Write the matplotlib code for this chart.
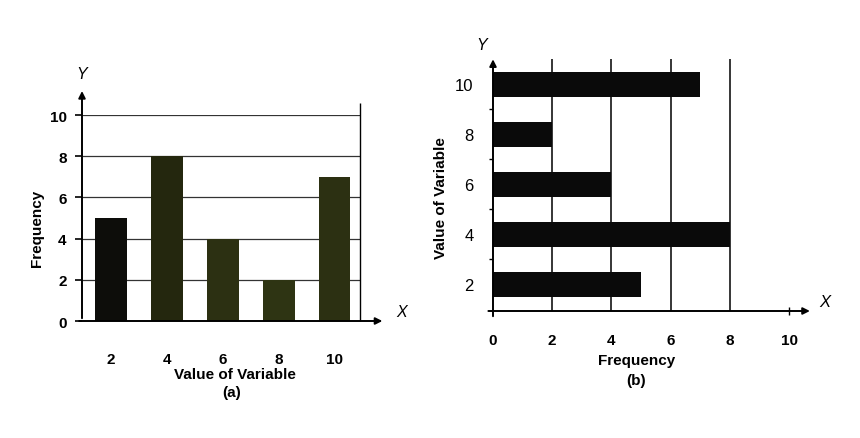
import matplotlib
matplotlib.use("Agg")
import matplotlib.pyplot as plt

# ---- data ----
categories = ["2", "4", "6", "8", "10"]
freq_a = [5, 8, 4, 2, 7]          # chart (a): vertical bars
freq_b = [5, 8, 4, 2, 7]          # chart (b): horizontal bars
yticks_a = [0, 2, 4, 6, 8, 10]
xticks_b = [0, 2, 4, 6, 8, 10]
colors_a = ["#0d0d0a", "#24270e", "#2c3012", "#2e3413", "#2c3012"]

W, H = 860, 439
fig = plt.figure(figsize=(W / 100, H / 100), dpi=100)
fig.patch.set_facecolor("white")
plt.rcParams['font.family'] = ['Liberation Sans', 'DejaVu Sans']

def px_axes(x0, x1, ytop, ybot):
    return fig.add_axes([x0 / W, 1 - ybot / H, (x1 - x0) / W, (ybot - ytop) / H])

# ================= chart (a) =================
axa = px_axes(82, 360, 116, 322)
xs = list(range(len(categories)))
axa.set_xlim(-0.52, 4.45)
axa.set_ylim(0, 10)
for s in axa.spines.values():
    s.set_visible(False)
axa.hlines(yticks_a[1:], -0.52, 4.45, color="#333333", lw=0.9, zorder=1)
axa.bar(xs, freq_a, width=0.56, color=colors_a, zorder=3)
axa.annotate("", xy=(-0.52, 11.3), xytext=(-0.52, 0), xycoords="data",
             arrowprops=dict(arrowstyle="-|>", color="black", lw=1.4, mutation_scale=10),
             annotation_clip=False)
axa.annotate("", xy=(4.9, 0), xytext=(-0.62, 0), xycoords="data",
             arrowprops=dict(arrowstyle="-|>", color="black", lw=1.4, mutation_scale=10),
             annotation_clip=False)
axa.vlines(4.45, 0, 10.6, color="black", lw=1.0, clip_on=False)
axa.set_yticks(yticks_a)
axa.set_yticklabels([str(v) for v in yticks_a], fontweight="bold", fontsize=11)
axa.tick_params(axis="y", length=5, width=1.2, pad=6)
axa.set_xticks(xs)
axa.set_xticklabels(categories, fontweight="bold", fontsize=11)
axa.tick_params(axis="x", length=0, pad=22)
fig.text(37 / W, 1 - 228 / H, "Frequency", rotation=90, ha="center", va="center",
         fontweight="bold", fontsize=11)
fig.text(235 / W, 1 - 375 / H, "Value of Variable", ha="center", va="center",
         fontweight="bold", fontsize=11)
fig.text(232 / W, 1 - 393 / H, "(a)", ha="center", va="center", fontweight="bold", fontsize=11)
fig.text(402 / W, 1 - 313 / H, "X", ha="center", va="center", fontstyle="italic", fontsize=11.5)
fig.text(82 / W, 1 - 75 / H, "Y", ha="center", va="center", fontstyle="italic", fontsize=11.5)

# ================= chart (b) =================
axb = px_axes(493, 789, 60, 312)
ys = list(range(len(categories)))
axb.set_xlim(0, 10)
axb.set_ylim(-0.54, 4.5)
for s in axb.spines.values():
    s.set_visible(False)
axb.vlines(xticks_b[1:-1], -0.7, 4.5, color="black", lw=1.1, zorder=1)
axb.barh(ys, freq_b, height=0.5, color="#0a0a0a", zorder=3)
axb.annotate("", xy=(0, 4.55), xytext=(0, -0.7), xycoords="data",
             arrowprops=dict(arrowstyle="-|>", color="black", lw=1.4, mutation_scale=10),
             annotation_clip=False)
axb.annotate("", xy=(10.8, -0.54), xytext=(-0.25, -0.54), xycoords="data",
             arrowprops=dict(arrowstyle="-|>", color="black", lw=1.4, mutation_scale=10),
             annotation_clip=False)
axb.vlines(10, -0.62, -0.46, color="black", lw=1.0, clip_on=False)
axb.set_yticks(ys)
axb.set_yticklabels(categories, fontsize=12)
axb.set_yticks([0.5, 1.5, 2.5, 3.5], minor=True)
axb.tick_params(axis="y", which="major", length=0, pad=14)
axb.tick_params(axis="y", which="minor", length=3, width=1)
axb.set_xticks(xticks_b)
axb.set_xticklabels([str(v) for v in xticks_b], fontweight="bold", fontsize=11)
axb.tick_params(axis="x", length=0, pad=16)
fig.text(441 / W, 1 - 198 / H, "Value of Variable", rotation=90, ha="center", va="center",
         fontweight="bold", fontsize=11)
fig.text(637 / W, 1 - 361 / H, "Frequency", ha="center", va="center",
         fontweight="bold", fontsize=11)
fig.text(636 / W, 1 - 381 / H, "(b)", ha="center", va="center", fontweight="bold", fontsize=11)
fig.text(825 / W, 1 - 303 / H, "X", ha="center", va="center", fontstyle="italic", fontsize=12)
fig.text(482 / W, 1 - 45 / H, "Y", ha="center", va="center", fontstyle="italic", fontsize=11.5)

fig.savefig("out.png", dpi=100, facecolor="white")
